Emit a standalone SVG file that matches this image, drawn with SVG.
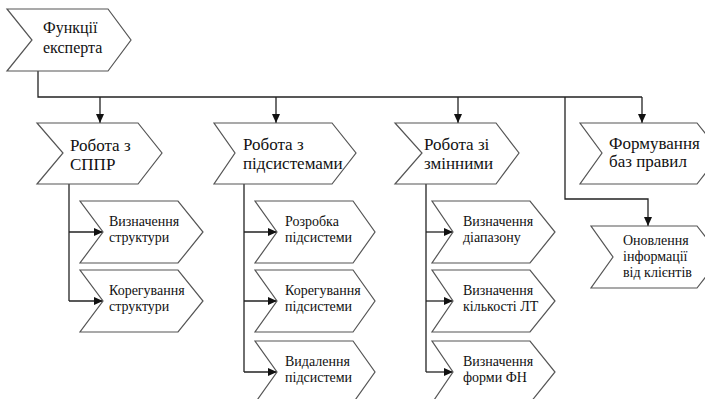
<svg xmlns="http://www.w3.org/2000/svg" width="705" height="399" viewBox="0 0 705 399">
  <style>
    .shape { fill: #ffffff; stroke: #555555; stroke-width: 1.2; stroke-linejoin: miter; }
    .wire { fill: none; stroke: #222222; stroke-width: 1.3; }
    text { font-family: 'Liberation Serif', 'Times New Roman', 'DejaVu Serif', serif; fill: #111111; }
    .t16 { font-size: 16px; }
    .t17 { font-size: 17px; }
    .t13 { font-size: 14px; }
  </style>
  <defs>
    <marker id="arrow" markerWidth="9" markerHeight="8" refX="9" refY="4" orient="auto" markerUnits="userSpaceOnUse">
      <path d="M0,0 L9,4 L0,8 Z" fill="#111111"/>
    </marker>
  </defs>

  <rect width="705" height="399" fill="#ffffff"/>

  <!-- connectors -->
  <g id="connectors">
    <path class="wire" d="M38,71 V97 H642"/>
    <path class="wire" d="M100,97 V123" marker-end="url(#arrow)"/>
    <path class="wire" d="M276,97 V123" marker-end="url(#arrow)"/>
    <path class="wire" d="M458,97 V123" marker-end="url(#arrow)"/>
    <path class="wire" d="M642,97 V123" marker-end="url(#arrow)"/>
    <path class="wire" d="M565,97 V199 H648 V226" marker-end="url(#arrow)"/>

    <path class="wire" d="M69,184 V301"/>
    <path class="wire" d="M69,232 H103" marker-end="url(#arrow)"/>
    <path class="wire" d="M69,301 H103" marker-end="url(#arrow)"/>

    <path class="wire" d="M244,184 V372"/>
    <path class="wire" d="M244,232 H277" marker-end="url(#arrow)"/>
    <path class="wire" d="M244,301 H277" marker-end="url(#arrow)"/>
    <path class="wire" d="M244,372 H277" marker-end="url(#arrow)"/>

    <path class="wire" d="M426,184 V372"/>
    <path class="wire" d="M426,232 H453" marker-end="url(#arrow)"/>
    <path class="wire" d="M426,301 H453" marker-end="url(#arrow)"/>
    <path class="wire" d="M426,372 H453" marker-end="url(#arrow)"/>
  </g>

  <!-- root -->
  <g id="node-root">
    <path class="shape" d="M7,9 H108 L131,40 L108,71 H7 L32,40 Z"/>
    <text class="t16" x="43" y="33">Функції</text>
    <text class="t16" x="43" y="53">експерта</text>
  </g>

  <!-- level 1 -->
  <g id="node-sppr">
    <path class="shape" d="M37,123 H138 L162,153 L138,184 H37 L63,153 Z"/>
    <text class="t17" x="70" y="151">Робота з</text>
    <text class="t17" x="70" y="170">СППР</text>
  </g>
  <g id="node-subsystems">
    <path class="shape" d="M214,123 H332 L356,153 L332,184 H214 L235,153 Z"/>
    <text class="t17" x="243" y="150">Робота з</text>
    <text class="t17" x="243" y="169">підсистемами</text>
  </g>
  <g id="node-variables">
    <path class="shape" d="M395,123 H496 L519,153 L496,184 H395 L422,153 Z"/>
    <text class="t17" x="424" y="150">Робота зі</text>
    <text class="t17" x="424" y="169">змінними</text>
  </g>
  <g id="node-rules">
    <path class="shape" d="M580,123 H697 L721,153 L697,184 H580 L602,153 Z"/>
    <text class="t17" x="609" y="149">Формування</text>
    <text class="t17" x="609" y="167">баз правил</text>
  </g>
  <g id="node-update">
    <path class="shape" d="M591,226 H697 L721,257 L697,288 H591 L613,257 Z"/>
    <text class="t13" x="623" y="245">Оновлення</text>
    <text class="t13" x="623" y="261">інформації</text>
    <text class="t13" x="623" y="277">від клієнтів</text>
  </g>

  <!-- СППР children -->
  <g id="node-sppr-define">
    <path class="shape" d="M80,201 H178 L203,232 L178,263 H80 L103,232 Z"/>
    <text class="t13" x="109" y="226">Визначення</text>
    <text class="t13" x="109" y="242">структури</text>
  </g>
  <g id="node-sppr-correct">
    <path class="shape" d="M80,270 H178 L203,301 L178,332 H80 L103,301 Z"/>
    <text class="t13" x="109" y="295">Корегування</text>
    <text class="t13" x="109" y="311">структури</text>
  </g>

  <!-- subsystem children -->
  <g id="node-sub-develop">
    <path class="shape" d="M255,201 H353 L375,232 L353,263 H255 L277,232 Z"/>
    <text class="t13" x="285" y="226">Розробка</text>
    <text class="t13" x="285" y="242">підсистеми</text>
  </g>
  <g id="node-sub-correct">
    <path class="shape" d="M255,270 H353 L375,301 L353,332 H255 L277,301 Z"/>
    <text class="t13" x="285" y="295">Корегування</text>
    <text class="t13" x="285" y="311">підсистеми</text>
  </g>
  <g id="node-sub-delete">
    <path class="shape" d="M255,341 H353 L375,372 L353,403 H255 L277,372 Z"/>
    <text class="t13" x="285" y="366">Видалення</text>
    <text class="t13" x="285" y="382">підсистеми</text>
  </g>

  <!-- variable children -->
  <g id="node-var-range">
    <path class="shape" d="M432,201 H530 L555,232 L530,263 H432 L453,232 Z"/>
    <text class="t13" x="463" y="226">Визначення</text>
    <text class="t13" x="463" y="242">діапазону</text>
  </g>
  <g id="node-var-count">
    <path class="shape" d="M432,270 H530 L555,301 L530,332 H432 L453,301 Z"/>
    <text class="t13" x="463" y="295">Визначення</text>
    <text class="t13" x="463" y="311">кількості ЛТ</text>
  </g>
  <g id="node-var-form">
    <path class="shape" d="M432,341 H530 L555,372 L530,403 H432 L453,372 Z"/>
    <text class="t13" x="463" y="366">Визначення</text>
    <text class="t13" x="463" y="382">форми ФН</text>
  </g>
</svg>
